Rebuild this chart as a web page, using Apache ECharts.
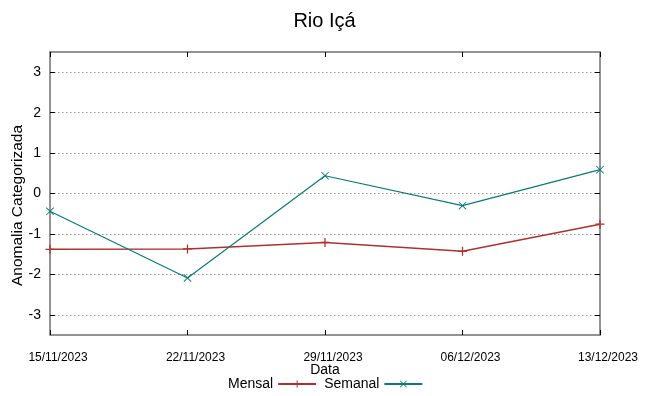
<!DOCTYPE html>
<html><head><meta charset="utf-8">
<script src="https://cdn.jsdelivr.net/npm/echarts@6/dist/echarts.min.js"></script>
<style>html,body{margin:0;padding:0;background:#fff}#c{width:649px;height:396px}</style>
</head><body><div id="c"></div>
<script>
var categories = ['15/11/2023','22/11/2023','29/11/2023','06/12/2023','13/12/2023'];
var mensal = [-1.38, -1.37, -1.21, -1.43, -0.76];
var semanal = [-0.44, -2.09, 0.44, -0.30, 0.59];
var yTicks = [-3,-2,-1,0,1,2,3];

var plusPath = 'path://M0,4.3h10v1.4h-10z M4.3,0h1.4v10h-1.4z';
var xPath = 'path://M0,0.8L0.8,0L10,9.2L9.2,10z M9.2,0L10,0.8L0.8,10L0,9.2z';
var frame = {show:true, onZero:false, lineStyle:{color:'#707070', width:1.5}};
var font = 'Liberation Sans, Arial, sans-serif';

var chart = echarts.init(document.getElementById('c'), null, {renderer:'canvas'});
chart.setOption({
  animation:false,
  title:{text:'Rio Içá', left:'center', top:6, textStyle:{fontFamily:font, fontSize:20, fontWeight:'normal', color:'#000'}},
  grid:{left:50, right:49, top:52, bottom:61, containLabel:false, outerBoundsMode:'none'},
  legend:{
    left:223, top:372, align:'right', itemGap:7, itemWidth:38, itemHeight:9,
    textStyle:{fontFamily:font, fontSize:14, color:'#000'},
    data:['Mensal','Semanal']
  },
  xAxis:[{
    type:'category', data:categories, boundaryGap:false, position:'bottom',
    name:'Data', nameLocation:'middle', nameGap:28, nameMoveOverlap:false,
    nameTextStyle:{fontFamily:font, fontSize:14, color:'#000'},
    axisLine:frame,
    axisTick:{inside:true, length:5, lineStyle:{color:'#000'}},
    axisLabel:{fontFamily:font, fontSize:12, color:'#000', margin:17, padding:[0,0,0,16]},
    splitLine:{show:false}
  },{
    type:'category', data:categories, boundaryGap:false, position:'top',
    axisLine:frame,
    axisTick:{inside:true, length:5, lineStyle:{color:'#000'}},
    axisLabel:{show:false}, splitLine:{show:false}
  }],
  yAxis:[{
    type:'value', min:-3.5, max:3.5, position:'left',
    name:'Anomalia Categorizada', nameLocation:'middle', nameGap:24, nameMoveOverlap:false,
    nameTextStyle:{fontFamily:font, fontSize:15.5, color:'#000', padding:[0,24,0,0]},
    axisLine:frame,
    axisTick:{show:true, inside:true, length:5, customValues:yTicks, lineStyle:{color:'#000'}},
    axisLabel:{fontFamily:font, fontSize:14, color:'#000', margin:9, customValues:yTicks},
    splitLine:{show:true, lineStyle:{color:'#999', type:[1.5,2.5], width:1}}
  },{
    type:'value', min:-3.5, max:3.5, position:'right',
    axisLine:frame,
    axisTick:{show:true, inside:true, length:5, customValues:yTicks, lineStyle:{color:'#000'}},
    axisLabel:{show:false}, splitLine:{show:false}
  }],
  series:[{
    name:'Mensal', type:'line', data:mensal, xAxisIndex:0, yAxisIndex:0,
    symbol:plusPath, symbolSize:9, showAllSymbol:true,
    lineStyle:{color:'#b03030', width:1.5}, itemStyle:{color:'#b03030'}
  },{
    name:'Semanal', type:'line', data:semanal, xAxisIndex:0, yAxisIndex:0,
    symbol:xPath, symbolSize:8, showAllSymbol:true,
    lineStyle:{color:'#0a7a7a', width:1.2}, itemStyle:{color:'#0a7a7a'}
  }]
});
</script></body></html>
